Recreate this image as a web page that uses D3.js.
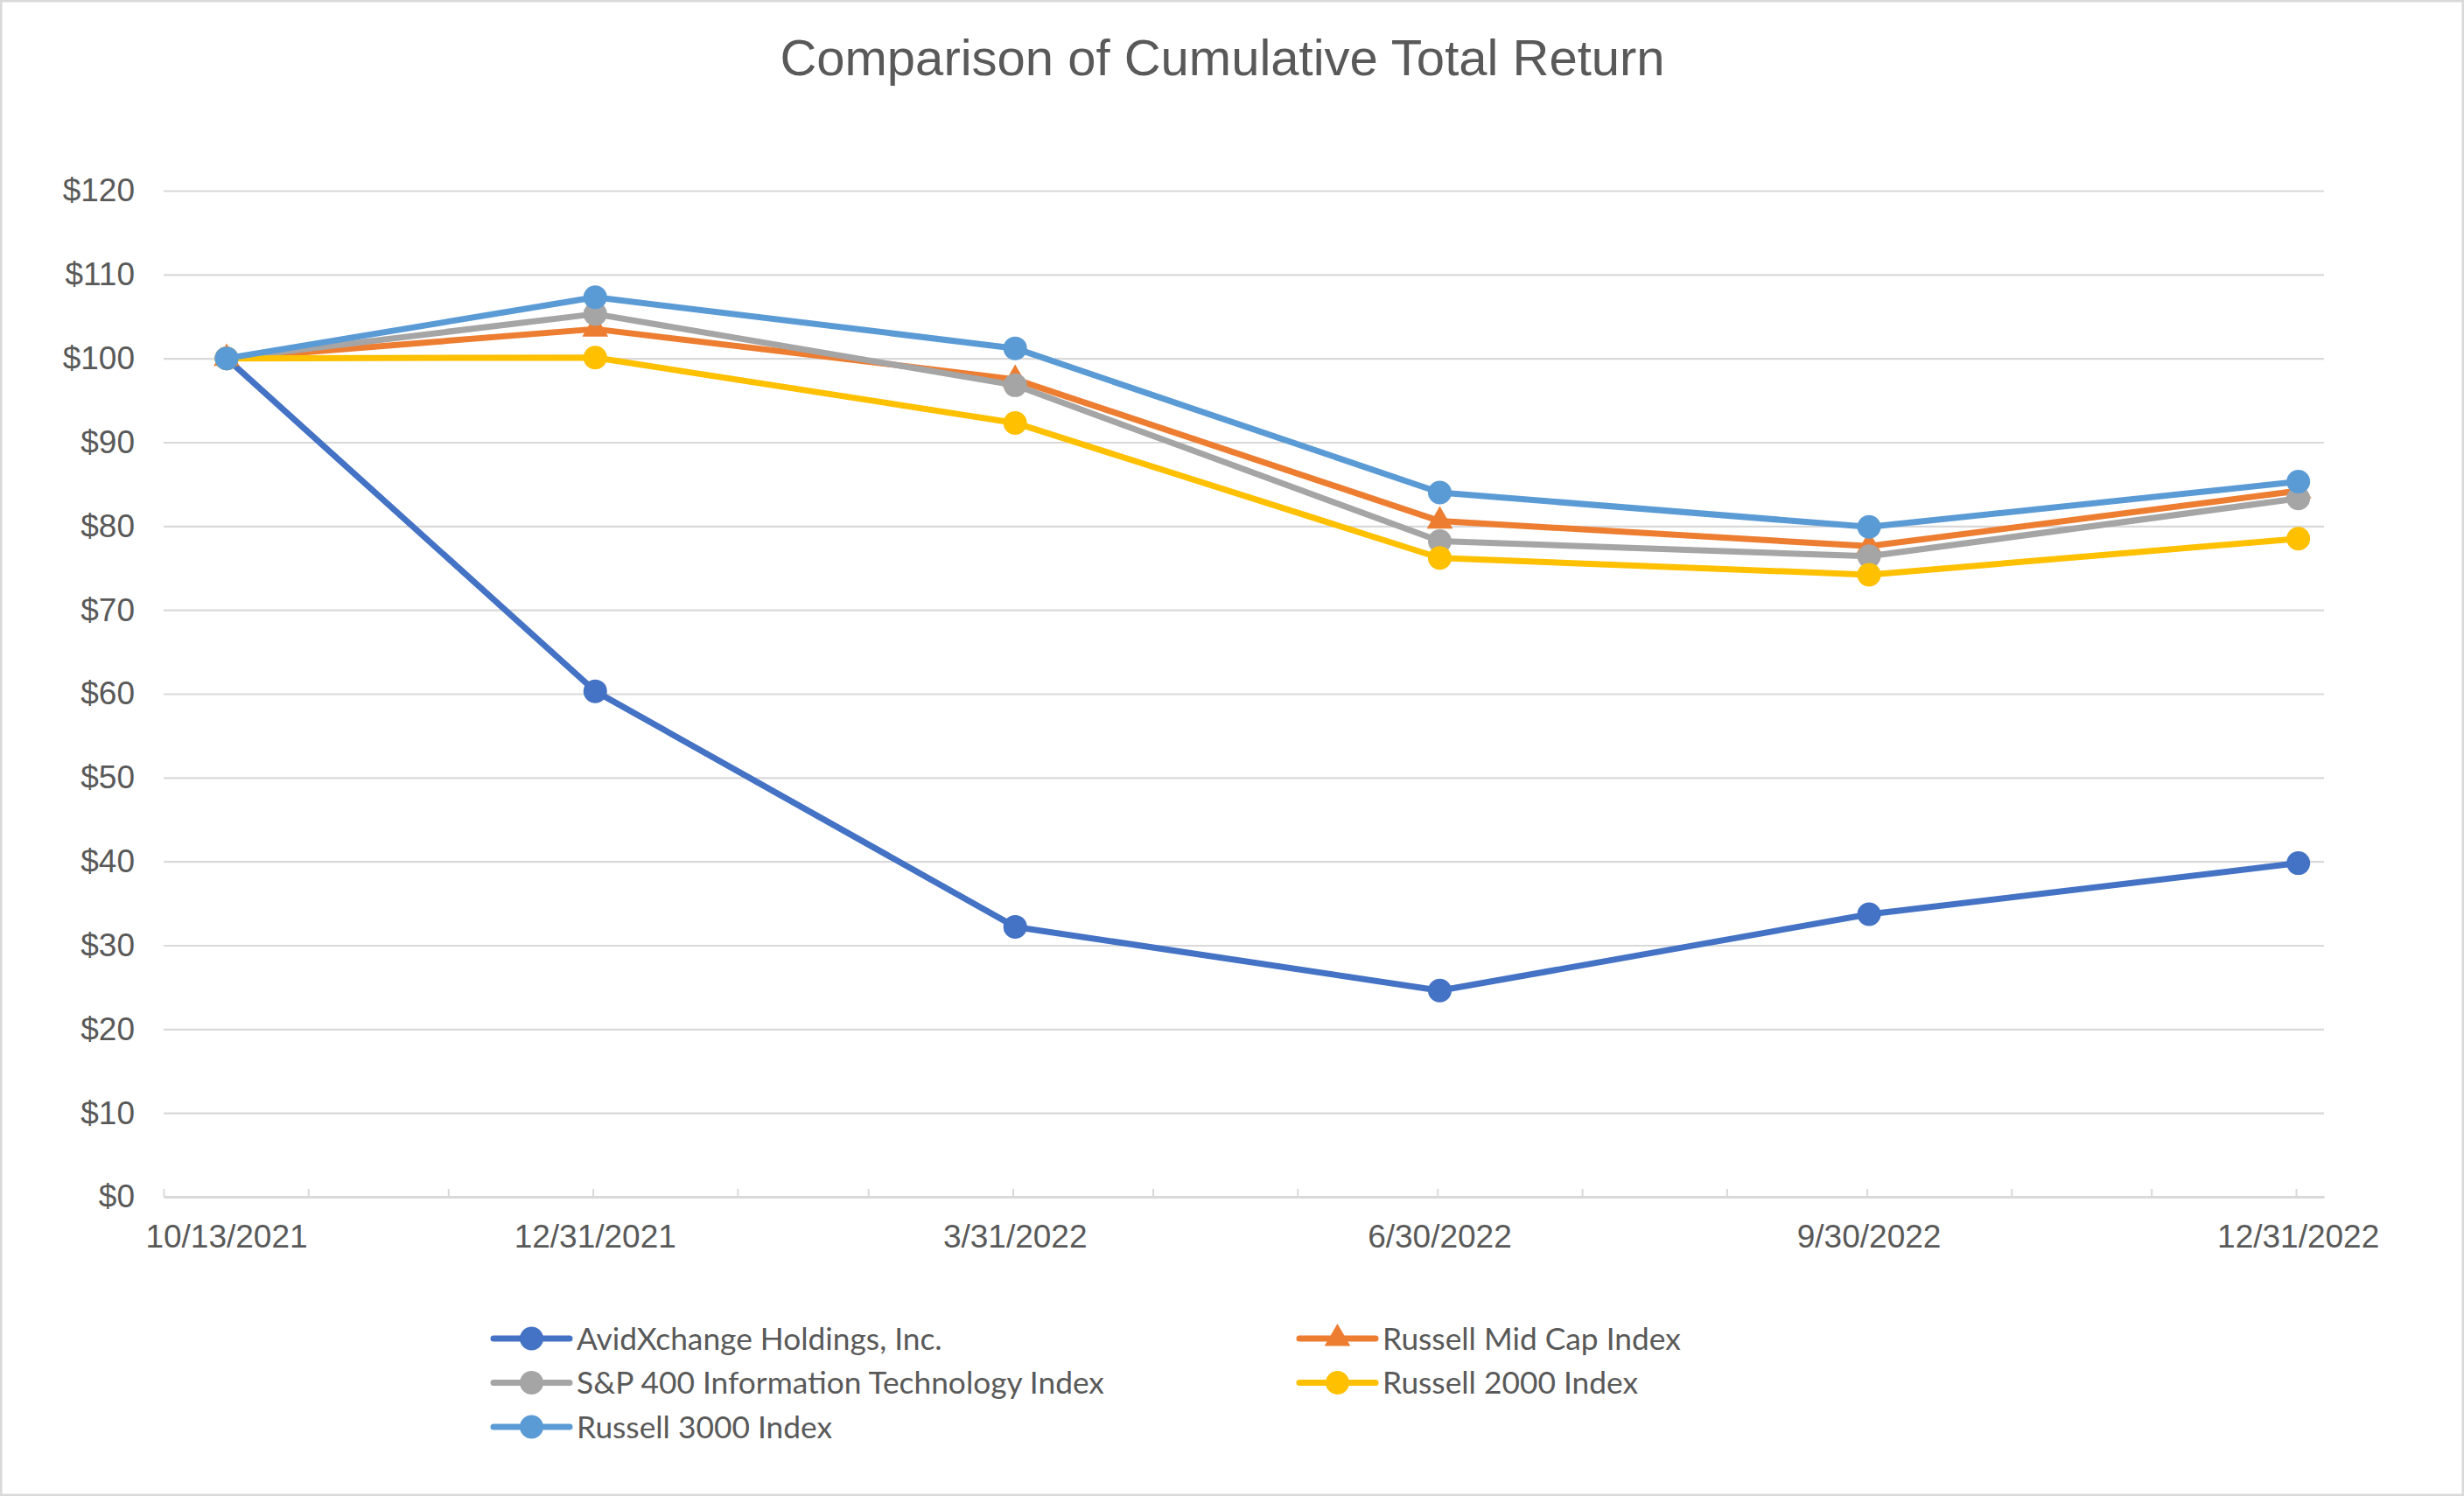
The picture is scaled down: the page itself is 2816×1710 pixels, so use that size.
<!DOCTYPE html>
<html>
<head>
<meta charset="utf-8">
<script src="https://cdn.jsdelivr.net/npm/d3@7"></script>
<style>
  html, body { margin: 0; padding: 0; background: #ffffff; }
  svg { display: block; }
</style>
</head>
<body>
<script>
// ---------- data ----------
const dateLabels = ["10/13/2021", "12/31/2021", "3/31/2022", "6/30/2022", "9/30/2022", "12/31/2022"];
const avidXchange = [100, 60.3, 32.2, 24.6, 33.7, 39.8];
const russellMidCap = [100, 103.5, 97.5, 80.6, 77.6, 84.2];
const sp400InfoTech = [100, 105.3, 96.8, 78.2, 76.4, 83.3];
const russell2000 = [100, 100.1, 92.3, 76.2, 74.2, 78.5];
const russell3000 = [100, 107.3, 101.2, 84.0, 79.9, 85.3];
const seriesNames = ["AvidXchange Holdings, Inc.", "Russell Mid Cap Index", "S&P 400 Information Technology Index", "Russell 2000 Index", "Russell 3000 Index"];
const yTickValues = [0, 10, 20, 30, 40, 50, 60, 70, 80, 90, 100, 110, 120];
const titleText = "Comparison of Cumulative Total Return";

// ---------- styling ----------
const W = 2816, H = 1710;
const colors = ["#4472C4", "#ED7D31", "#A5A5A5", "#FFC000", "#5B9BD5"];
const symbols = ["circle", "triangle", "circle", "circle", "circle"];
const textColor = "#595959";
const gridColor = "#D9D9D9";

const parse = d3.utcParse("%m/%d/%Y");
const dates = dateLabels.map(parse);
const seriesValues = [avidXchange, russellMidCap, sp400InfoTech, russell2000, russell3000];
const series = seriesNames.map((name, i) => ({
  name, color: colors[i], symbol: symbols[i],
  values: seriesValues[i].map((v, j) => ({ date: dates[j], value: v }))
}));

const svg = d3.select("body").append("svg").attr("width", W).attr("height", H);
svg.append("rect").attr("x", 0).attr("y", 0).attr("width", W).attr("height", H).attr("fill", "#fff");
svg.append("rect").attr("x", 1.25).attr("y", 1.25).attr("width", W - 2.5).attr("height", H - 2.5)
  .attr("fill", "none").attr("stroke", gridColor).attr("stroke-width", 2.5);

// plot area
const plot = { left: 187, right: 2656, top: 218, bottom: 1368 };

const x = d3.scaleUtc()
  .domain([new Date(Date.UTC(2021, 8, 30)), new Date(Date.UTC(2023, 0, 6))])
  .range([plot.left, plot.right]);
const y = d3.scaleLinear().domain([0, 120]).range([plot.bottom, plot.top]);
const px = d => x(d3.utcHour.offset(d, 12)); // points at middle of day slot

// title
svg.append("text")
  .attr("x", 1397).attr("y", 86)
  .attr("text-anchor", "middle")
  .attr("font-family", "'Liberation Sans', Arial, sans-serif")
  .attr("font-size", 58)
  .attr("fill", textColor)
  .text(titleText);

// gridlines
const yAxisG = svg.append("g").attr("transform", `translate(${plot.left},0)`)
  .call(d3.axisLeft(y).tickValues(yTickValues).tickSize(-(plot.right - plot.left)).tickPadding(33)
    .tickFormat(d => "$" + d));
yAxisG.select(".domain").remove();
yAxisG.selectAll(".tick line")
  .attr("stroke", gridColor).attr("stroke-width", 2.2)
  .attr("opacity", d => d === 0 ? 0 : 1);
yAxisG.selectAll(".tick text")
  .attr("font-family", "'Liberation Sans', Arial, sans-serif")
  .attr("font-size", 37).attr("fill", textColor);

// x axis line + minor month ticks
const monthTicks = d3.utcMonth.range(new Date(Date.UTC(2021, 9, 1)), new Date(Date.UTC(2023, 0, 2)))
  .map(d => d3.utcDay.offset(d, -1));
const xAxisG = svg.append("g").attr("transform", `translate(0,${plot.bottom})`)
  .call(d3.axisBottom(x).tickValues(monthTicks).tickSize(-9).tickSizeOuter(0).tickFormat(""));
xAxisG.select(".domain").attr("stroke", gridColor).attr("stroke-width", 2.8);
xAxisG.selectAll(".tick line").attr("stroke", gridColor).attr("stroke-width", 2);

// x labels at the data dates
svg.append("g").selectAll("text").data(dates).join("text")
  .attr("x", d => px(d)).attr("y", 1426)
  .attr("text-anchor", "middle")
  .attr("font-family", "'Liberation Sans', Arial, sans-serif")
  .attr("font-size", 37).attr("fill", textColor)
  .text((d, i) => dateLabels[i]);

// lines
const line = d3.line().x(d => px(d.date)).y(d => y(d.value));
const triangle = d3.symbol().type(d3.symbolTriangle).size(380);
function drawMarker(g, sym, color, cx, cy) {
  if (sym === "triangle") {
    g.append("path").attr("d", triangle()).attr("transform", `translate(${cx},${cy})`).attr("fill", color);
  } else {
    g.append("circle").attr("cx", cx).attr("cy", cy).attr("r", 13.5).attr("fill", color);
  }
}
series.forEach(s => {
  const g = svg.append("g");
  g.append("path").datum(s.values).attr("d", line)
    .attr("fill", "none").attr("stroke", s.color).attr("stroke-width", 7)
    .attr("stroke-linejoin", "round").attr("stroke-linecap", "round");
  s.values.forEach(v => drawMarker(g, s.symbol, s.color, px(v.date), y(v.value)));
});

// legend
const legendPos = [
  { lx: 564, row: 1530 }, { lx: 1485, row: 1530 },
  { lx: 564, row: 1580.5 }, { lx: 1485, row: 1580.5 },
  { lx: 564, row: 1631 }
];
series.forEach((s, i) => {
  const p = legendPos[i];
  const g = svg.append("g");
  g.append("line").attr("x1", p.lx).attr("x2", p.lx + 87).attr("y1", p.row).attr("y2", p.row)
    .attr("stroke", s.color).attr("stroke-width", 7).attr("stroke-linecap", "round");
  drawMarker(g, s.symbol, s.color, p.lx + 43.5, p.row);
  g.append("text").attr("x", p.lx + 95).attr("y", p.row).attr("dy", "0.36em")
    .attr("font-family", "Lato, 'Open Sans', sans-serif")
    .attr("font-size", 35.3).attr("fill", textColor)
    .text(s.name);
});
</script>
</body>
</html>
